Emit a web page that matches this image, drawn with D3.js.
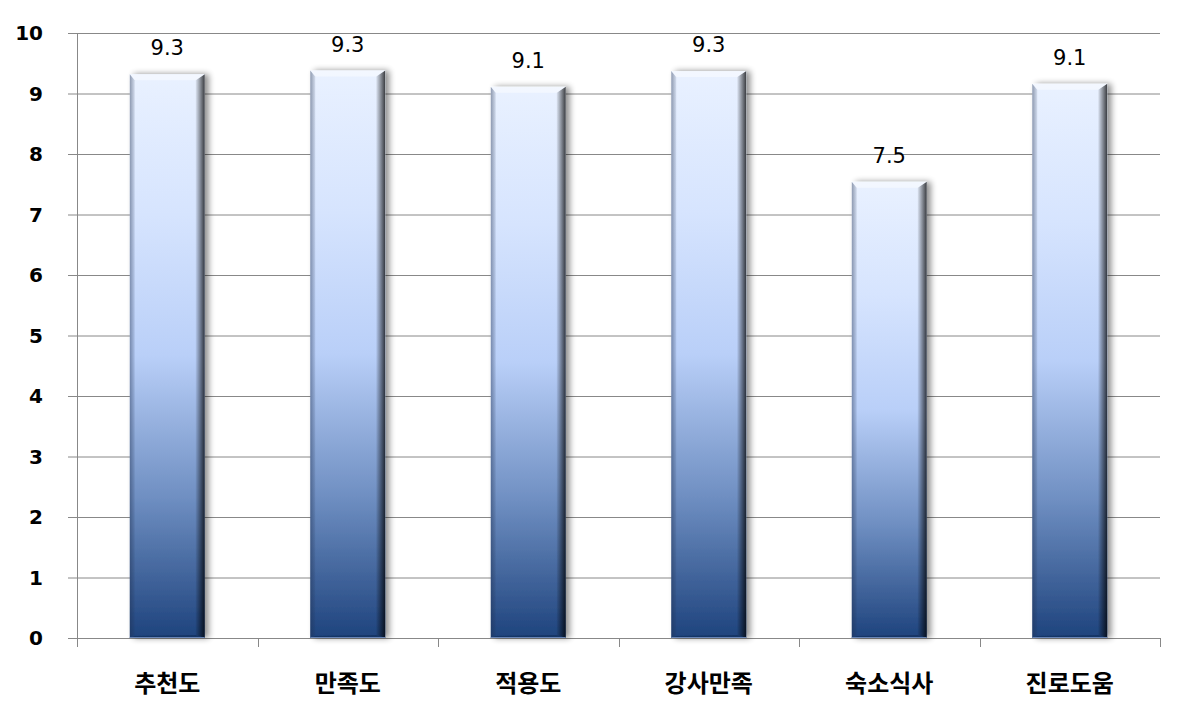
<!DOCTYPE html>
<html><head><meta charset="utf-8">
<script src="https://cdn.jsdelivr.net/npm/d3@7"></script>
<style>body{margin:0;background:#fff;}svg{display:block;}</style>
</head><body>
<script>
const categories = ["추천도","만족도","적용도","강사만족","숙소식사","진로도움"];
const values = [9.32, 9.38, 9.11, 9.37, 7.54, 9.16];
const yTicks = [0,1,2,3,4,5,6,7,8,9,10];

const W = 1184, H = 715;
const m = {left:77, right:24, top:33, bottom:77};
const svg = d3.select("body").append("svg").attr("width",W).attr("height",H);
const x = d3.scaleBand().domain(categories).range([m.left, W-m.right]).paddingInner(0.585).paddingOuter(0.2925);
const xb = d3.scaleBand().domain(categories).range([m.left, W-m.right]);
const y = d3.scaleLinear().domain([0,10]).range([H-m.bottom, m.top]);

const defs = svg.append("defs");
const g1 = defs.append("linearGradient").attr("id","barGrad").attr("x1",0).attr("y1",0).attr("x2",0).attr("y2",1);
[[0,"#e9f1ff"],[0.25,"#d6e4fe"],[0.5,"#b9cff8"],[0.75,"#6f8fc2"],[1,"#1e437d"]].forEach(s=>g1.append("stop").attr("offset",s[0]).attr("stop-color",s[1]));
const gR = defs.append("linearGradient").attr("id","rightGrad").attr("x1",0).attr("y1",0).attr("x2",1).attr("y2",0);
gR.append("stop").attr("offset",0).attr("stop-color","#000").attr("stop-opacity",0.05);
gR.append("stop").attr("offset",1).attr("stop-color","#000").attr("stop-opacity",0.75);
const gL = defs.append("linearGradient").attr("id","leftGrad").attr("x1",0).attr("y1",0).attr("x2",1).attr("y2",0);
gL.append("stop").attr("offset",0).attr("stop-color","#203050").attr("stop-opacity",0.45);
gL.append("stop").attr("offset",1).attr("stop-color","#203050").attr("stop-opacity",0.1);
const f = defs.append("filter").attr("id","shadow").attr("x","-20%").attr("y","-10%").attr("width","150%").attr("height","120%");
f.append("feGaussianBlur").attr("in","SourceAlpha").attr("stdDeviation",3);
f.append("feOffset").attr("dx",4).attr("dy",0).attr("result","ob");
f.append("feComponentTransfer").append("feFuncA").attr("type","linear").attr("slope",0.45);
const fm = f.append("feMerge"); fm.append("feMergeNode"); fm.append("feMergeNode").attr("in","SourceGraphic");

// gridlines
svg.append("g").selectAll("line").data(yTicks).join("line")
  .attr("x1",m.left-9).attr("x2",W-m.right)
  .attr("y1",d=>y(d)+0.5).attr("y2",d=>y(d)+0.5)
  .attr("stroke","#888").attr("stroke-width",1);
// y axis line
svg.append("line").attr("x1",m.left+0.5).attr("x2",m.left+0.5).attr("y1",y(10)).attr("y2",y(0)+9).attr("stroke","#888");
// x category ticks
const bounds = categories.map(c=>xb(c)+xb.bandwidth()).concat([m.left]);
svg.append("g").selectAll("line").data(bounds).join("line")
  .attr("x1",d=>Math.round(d)+0.5).attr("x2",d=>Math.round(d)+0.5)
  .attr("y1",y(0)).attr("y2",y(0)+9).attr("stroke","#888");
// y tick labels
svg.append("g").selectAll("text").data(yTicks).join("text")
  .attr("x",43).attr("y",d=>y(d)).attr("dy","0.36em").attr("text-anchor","end")
  .attr("font-family","'DejaVu Sans',sans-serif").attr("font-size",20).attr("font-weight","bold")
  .attr("fill","#000").text(d=>d);

// bars
const bars = svg.append("g").selectAll("g").data(categories).join("g");
bars.each(function(c,i){
  const g = d3.select(this);
  const x0 = x(c), bw = x.bandwidth(), yt = y(values[i]), yb = y(0), h = yb-yt;
  g.append("rect").attr("x",x0).attr("y",yt).attr("width",bw).attr("height",h)
    .attr("fill","url(#barGrad)").attr("filter","url(#shadow)");
  const bl = 5, br = 9, bt = 6;
  g.append("path").attr("d",`M${x0},${yt}L${x0+bl},${yt+bt}L${x0+bl},${yb-2}L${x0},${yb}Z`).attr("fill","url(#leftGrad)");
  g.append("path").attr("d",`M${x0+bw},${yt}L${x0+bw-br},${yt+bt}L${x0+bw-br},${yb-3}L${x0+bw},${yb}Z`).attr("fill","url(#rightGrad)");
  g.append("path").attr("d",`M${x0},${yt}L${x0+bw},${yt}L${x0+bw-br},${yt+bt}L${x0+bl},${yt+bt}Z`).attr("fill","#ffffff").attr("fill-opacity",0.45);
  g.append("path").attr("d",`M${x0},${yb}L${x0+bw},${yb}L${x0+bw-br},${yb-3}L${x0+bl},${yb-2}Z`).attr("fill","#0a1a3a").attr("fill-opacity",0.35);
  g.append("line").attr("x1",x0).attr("x2",x0+bw).attr("y1",yb-0.5).attr("y2",yb-0.5).attr("stroke","#6a86b8").attr("stroke-width",1);
});

// value labels
const fmt = v => (Math.floor(v*10)/10).toFixed(1);
svg.append("g").selectAll("text").data(categories).join("text")
  .attr("x",c=>x(c)+x.bandwidth()/2).attr("y",(c,i)=>y(values[i])-19)
  .attr("text-anchor","middle")
  .attr("font-family","'DejaVu Sans',sans-serif").attr("font-size",21)
  .attr("fill","#000").text((c,i)=>fmt(values[i]));

// category labels
svg.append("g").selectAll("text").data(categories).join("text")
  .attr("x",c=>x(c)+x.bandwidth()/2).attr("y",692)
  .attr("text-anchor","middle")
  .attr("font-family","'Noto Sans CJK KR',sans-serif").attr("font-size",24).attr("font-weight","bold")
  .attr("fill","#000").text(c=>c);
</script>
</body></html>
